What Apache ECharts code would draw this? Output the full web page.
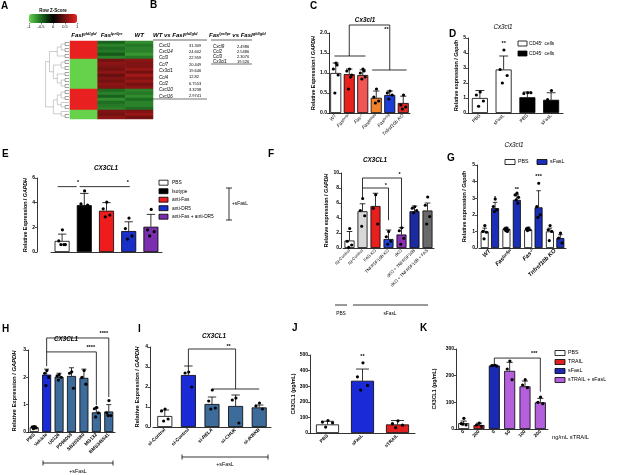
<!DOCTYPE html>
<html>
<head>
<meta charset="utf-8">
<script src="https://cdn.jsdelivr.net/npm/echarts@6/dist/echarts.min.js"></script>
<style>
  html, body { margin: 0; padding: 0; background: #fff; }
  #main { width: 617px; height: 475px; }
</style>
</head>
<body>
<div id="main"></div>
<script>
// ---- A: heatmap (row z-scores) ----
var hmCols = ['Fasl{s|gld/gld}', 'Fas{s|lpr/lpr}', 'WT'];
var hmFasl = [1.1, 1.15, 1.1, 1.15, 1.1, 1.15, -1.1, -1.15, -1.1, -1.15, -1.1, -1.15, -1.1, -1.15, -1.1, -1.15, 1.1, 1.15, 1.1, 1.15, 1.1, 1.15, 1.1, -1.1, -1.15, -1.1];
var hmLpr = [-0.45, -0.6, -0.5, -0.55, -0.4, -0.6, 0.5, 0.6, 0.55, 0.5, 0.6, 0.45, 0.55, 0.5, 0.6, 0.55, -0.5, -0.6, -0.45, -0.65, -0.5, -0.55, -0.6, 0.55, 0.5, 0.6];
var hmWt = [-0.65, -0.55, -0.6, -0.6, -0.7, -0.55, 0.6, 0.55, 0.55, 0.65, 0.5, 0.7, 0.55, 0.65, 0.5, 0.6, -0.6, -0.55, -0.65, -0.5, -0.6, -0.6, -0.5, 0.55, 0.65, 0.5];
var dendro = [
  [
    [[[0, 1], [2, 3]], [4, 5]],
    [[[6, 7], [8, 9]], [[10, 11], [[12, 13], [14, 15]]]]
  ],
  [
    [[[16, 17], [18, 19]], [20, [21, 22]]],
    [23, [24, 25]]
  ]
];

// ---- B: tables ----
var tblWtGenes = ['Cxcl1', 'Cxcl14', 'Ccl3', 'Ccl7', 'Cx3cl1', 'Ccl4', 'Ccl2', 'Cxcl10', 'Cxcl16'];
var tblWtFold = ['31.309', '24.602', '22.959', '20.449', '19.646', '12.82', '6.7553', '3.3238', '2.9741'];
var tblLprGenes = ['Cxcl9', 'Ccl2', 'Ccl3', 'Cx3cl1'];
var tblLprFold = ['2.4986', '2.5486', '2.3070', '19.526'];

// ---- C ----
var cCats = ['WT', 'Fas{s|lpr/lpr}', 'Fas{s|-/-}', 'Fasl{s|gld/gld}', 'Fas{s|lpr/cg}', 'Tnfrsf10b KO'];
var cMean = [1.0, 0.97, 0.95, 0.38, 0.45, 0.25];
var cSd = [0.25, 0.13, 0.13, 0.17, 0.1, 0.17];
var cDots = [[1.25, 1.1, 0.95, 0.5, 1.2], [1.1, 1.05, 0.95, 0.6, 0.9], [1.1, 1.0, 0.9, 0.85, 1.05], [0.6, 0.4, 0.3, 0.25], [0.55, 0.5, 0.45, 0.35], [0.45, 0.2, 0.15, 0.1]];
var cColors = ['#ffffff', '#e8221c', '#f25555', '#f3822a', '#1c3ed6', '#dc2a20'];

// ---- D ----
var dCats = ['PBS', 'sFasL', 'PBS', 'sFasL'];
var dMean = [1.0, 2.9, 1.05, 0.88];
var dSd = [0.5, 0.9, 0.35, 0.47];
var dDots = [[1.4, 1.2, 0.8, 0.45], [4.2, 2.9, 2.5, 2.0], [1.35, 1.3, 1.35], [1.5, 0.9, 0.7, 0.45]];
var dColors = ['#ffffff', '#ffffff', '#000000', '#000000'];
var dLegend = ['CD45\u207A cells', 'CD45\u207B cells'];

// ---- E ----
var eCats = ['PBS', 'Isotype', 'anti-Fas', 'anti-DR5', 'anti-Fas + anti-DR5'];
var eMean = [0.9, 3.8, 3.35, 1.7, 2.05];
var eSd = [0.55, 0.95, 0.65, 0.75, 1.0];
var eDots = [[1.8, 0.9, 0.6, 0.6, 0.6], [4.95, 3.9, 3.8], [4.05, 3.5, 3.0, 2.85], [2.75, 1.9, 1.3, 1.05], [3.45, 1.8, 1.65, 1.3]];
var eColors = ['#ffffff', '#000000', '#ee1c1c', '#1a2fc8', '#7b2fae'];

// ---- F ----
var fCats = ['sg-Control', 'sg-Control', 'FAS KO', 'TNFRSF10B KO', 'dKO', 'dKO + TNFRSF10B', 'dKO + TNFRSF10B + FAS'];
var fMean = [1.0, 4.9, 5.6, 1.2, 1.8, 4.9, 5.0];
var fSd = [1.2, 1.0, 1.7, 1.2, 0.9, 0.7, 1.0];
var fDots = [[2.6, 0.9, 0.4, 0.1], [6.6, 5.0, 4.3, 2.9], [7.1, 5.3, 3.2], [2.2, 1.5, 0.9, 0.5], [2.7, 2.3, 1.3, 0.5], [5.5, 5.3, 5.0, 4.7], [6.8, 5.7, 4.2, 3.2]];
var fColors = ['#ffffff', '#d8d8d8', '#e8201d', '#2142d8', '#8b2fb3', '#1b2a9e', '#6a6a6a'];

// ---- G ----
var gCats = ['WT', 'Fas{s|lpr/lpr}', 'Fas{s|-/-}', 'Tnfrsf10b KO'];
var gPbsMean = [1.0, 1.15, 1.1, 1.0];
var gPbsSd = [0.2, 0.1, 0.15, 0.2];
var gPbsDots = [[1.35, 1.0, 0.95, 0.55], [1.2, 1.15, 1.1, 1.05, 1.0], [1.2, 1.15, 1.1, 1.05], [1.35, 1.1, 1.0, 0.45]];
var gFasMean = [2.4, 2.9, 2.45, 0.6];
var gFasSd = [0.35, 0.3, 1.0, 0.2];
var gFasDots = [[2.95, 2.5, 2.3, 2.2], [3.3, 3.2, 3.05, 2.9, 2.7], [3.9, 2.5, 2.0, 1.85], [0.9, 0.6, 0.3]];
var gLegend = ['PBS', 'sFasL'];

// ---- H ----
var hCats = ['PBS', 'Vehicle', 'U0126', 'PD98059', 'SB203580', 'MG132', 'BMS345541'];
var hMean = [0.17, 2.1, 2.02, 2.05, 1.98, 0.72, 0.75];
var hSd = [0.05, 0.2, 0.13, 0.3, 0.32, 0.16, 0.25];
var hDots = [[0.2, 0.18, 0.15, 0.12], [2.25, 2.15, 2.0, 1.7], [2.1, 2.05, 2.0, 1.9], [2.2, 2.15, 1.6], [2.25, 2.0, 1.75], [0.9, 0.85, 0.7, 0.55], [1.15, 0.7, 0.6, 0.6]];
var hColors = ['#ffffff', '#1a2ad6', '#3d6b9a', '#3d6b9a', '#3d6b9a', '#3d6b9a', '#3d6b9a'];

// ---- I ----
var iCats = ['si-Control', 'si-Control', 'si-{i|RELA}', 'si-{i|CHUK}', 'si-{i|IKBKB}'];
var iMean = [0.55, 2.6, 1.15, 1.05, 0.98];
var iSd = [0.3, 0.45, 0.35, 0.55, 0.12];
var iDots = [[0.9, 0.8, 0.4, 0.3], [2.75, 2.7, 2.0], [1.85, 1.3, 0.95, 0.9], [1.45, 1.35, 0.2], [1.2, 1.05, 0.9]];
var iColors = ['#ffffff', '#1a2ad6', '#3d6b9a', '#3d6b9a', '#3d6b9a'];

// ---- J ----
var jCats = ['PBS', 'sFasL', 'sTRAIL'];
var jMean = [55, 335, 55];
var jSd = [20, 75, 25];
var jDots = [[80, 70, 65, 38], [450, 360, 305, 275], [78, 60, 50, 35]];
var jColors = ['#ffffff', '#1a2ad6', '#e02020'];

// ---- K ----
var kCats = ['0', '200', '0', '50', '100', '200'];
var kMean = [22, 15, 238, 218, 160, 100];
var kSd = [8, 7, 2, 32, 20, 15];
var kDots = [[40, 20, 15, 18], [22, 15, 10], [240, 238, 236], [255, 225, 185], [185, 165, 155], [120, 100, 95]];
var kColors = ['#ffffff', '#e02020', '#1a2ab5', '#b45fdc', '#b45fdc', '#b45fdc'];
var kLegend = ['PBS', 'TRAIL', 'sFasL', 'sTRAIL + sFasL'];
var kLegendColors = ['#ffffff', '#e02020', '#1a2ab5', '#b45fdc'];

var FONT = '"Liberation Sans", Arial, sans-serif';
var jit = [0.02, -0.22, 0.22, -0.08, 0.12];

var grids = [], xAxes = [], yAxes = [], series = [], graphics = [];

function sup(size) {
  return {
    i: { fontStyle: 'italic', fontSize: size, fontFamily: FONT },
    s: { fontSize: size * 0.7, verticalAlign: 'top', fontFamily: FONT, fontStyle: 'italic' }
  };
}

// interpolate between category centres
function pt(api, x, y) {
  var a = Math.floor(x), f = x - a;
  var p = api.coord([a, y]);
  if (f > 0) {
    var q = api.coord([a + 1, y]);
    p = [p[0] + (q[0] - p[0]) * f, p[1]];
  }
  return p;
}

function addGrid(box, xa, ya) {
  box.outerBoundsMode = 'none';
  grids.push(box);
  var gi = grids.length - 1;
  xa.gridIndex = gi; ya.gridIndex = gi;
  xAxes.push(xa); yAxes.push(ya);
  return gi;
}

function barPanel(p) {
  var lbl = p.label || {};
  var gi = addGrid(p.box, {
    type: 'category', data: p.cats,
    axisLine: { lineStyle: { color: '#000', width: 0.8 } },
    axisTick: { alignWithLabel: true, length: 2, lineStyle: { color: '#000', width: 0.7 } },
    axisLabel: {
      show: lbl.show !== false, interval: 0, rotate: 45, margin: 2,
      fontSize: lbl.size || 5, color: '#000', fontFamily: FONT,
      fontStyle: lbl.italic ? 'italic' : 'normal', fontWeight: lbl.bold ? 'bold' : 'normal',
      rich: sup(lbl.size || 5)
    }
  }, {
    type: 'value', min: 0, max: p.ymax, interval: p.yint, offset: p.yOffset || 0,
    axisLine: { show: true, lineStyle: { color: '#000', width: 0.8 } },
    axisTick: { show: true, length: 2, lineStyle: { color: '#000', width: 0.7 } },
    splitLine: { show: false },
    axisLabel: { fontSize: 5, margin: 2, color: '#000', fontFamily: FONT, fontWeight: 'bold', formatter: p.yfmt },
    name: p.yname, nameLocation: 'middle', nameGap: p.nameGap,
    nameTextStyle: {
      fontSize: p.nameSize || 5.3, fontWeight: 'bold', color: '#000', fontFamily: FONT,
      rich: { i: { fontStyle: 'italic', fontWeight: 'bold', fontSize: p.nameSize || 5.3, fontFamily: FONT } }
    }
  });
  p.series.forEach(function (s) {
    series.push({
      type: 'bar', xAxisIndex: gi, yAxisIndex: gi, barWidth: p.barWidth, barGap: p.barGap || '30%',
      data: s.mean.map(function (v, i) {
        var c = Array.isArray(s.colors) ? s.colors[i] : s.colors;
        return { value: v, itemStyle: { color: c } };
      }),
      itemStyle: { borderColor: '#000', borderWidth: 0.8 }, silent: true
    });
  });
  p.series.forEach(function (s) {
    var shift = s.shift || 0, cap = p.barWidth * 0.28;
    series.push({
      type: 'custom', xAxisIndex: gi, yAxisIndex: gi, silent: true, z: 3,
      data: s.mean.map(function (v, i) { return [i, v, s.sd[i]]; }),
      renderItem: function (params, api) {
        var p0 = api.coord([api.value(0), api.value(1)]);
        var p1 = api.coord([api.value(0), api.value(1) + api.value(2)]);
        var x = p0[0] + shift;
        var st = { stroke: '#000', lineWidth: 0.8 };
        return { type: 'group', children: [
          { type: 'line', shape: { x1: x, y1: p0[1], x2: x, y2: p1[1] }, style: st },
          { type: 'line', shape: { x1: x - cap, y1: p1[1], x2: x + cap, y2: p1[1] }, style: st }
        ] };
      }
    });
    var dd = [];
    s.dots.forEach(function (arr, i) { arr.forEach(function (v, j) { dd.push([i, v, j]); }); });
    series.push({
      type: 'custom', xAxisIndex: gi, yAxisIndex: gi, silent: true, z: 4, data: dd,
      renderItem: function (params, api) {
        var c = api.coord([api.value(0), api.value(1)]);
        return { type: 'circle', shape: { cx: c[0] + shift + jit[api.value(2) % jit.length] * p.barWidth, cy: c[1], r: 1.6 }, style: { fill: '#000' } };
      }
    });
  });
  if (p.brackets) {
    var br = p.brackets;
    series.push({
      type: 'custom', xAxisIndex: gi, yAxisIndex: gi, silent: true, z: 5,
      data: br.map(function (b, i) { return [0, 0]; }),
      renderItem: function (params, api) {
        var b = br[params.dataIndex];
        var kids = [];
        if (b.pts) {
          kids.push({ type: 'polyline', shape: { points: b.pts.map(function (q) { return pt(api, q[0], q[1]); }) }, style: { stroke: '#000', lineWidth: 0.8, fill: null } });
        }
        if (b.text) {
          var c = pt(api, b.at[0], b.at[1]);
          kids.push({ type: 'text', x: c[0] + (b.dx || 0), y: c[1], style: { text: b.text, fontSize: 5.5, fontWeight: 'bold', fontFamily: FONT, fill: '#000', align: 'center', verticalAlign: 'middle' } });
        }
        return { type: 'group', children: kids };
      }
    });
  }
  return gi;
}

// ---- A heatmap ----
var hmAll = [hmFasl, hmLpr, hmWt];
var hmData = [];
hmAll.forEach(function (col, c) { col.forEach(function (v, r) { hmData.push([c, r, v]); }); });
var rowIdx = hmFasl.map(function (v, i) { return String(i); });
var gHeat = addGrid({ left: 70, top: 41, width: 83, height: 78 }, {
  type: 'category', data: hmCols, position: 'top',
  axisLine: { show: false }, axisTick: { show: false },
  axisLabel: { interval: 0, margin: 3, fontSize: 6, fontWeight: 'bold', fontStyle: 'italic', color: '#000', fontFamily: FONT,
    rich: { s: { fontSize: 4, verticalAlign: 'top', fontWeight: 'bold', fontStyle: 'italic', fontFamily: FONT } } }
}, { type: 'category', data: rowIdx, inverse: true, show: false });
series.push({ type: 'heatmap', xAxisIndex: gHeat, yAxisIndex: gHeat, data: hmData, silent: true });

// colour-bar tick labels
var gBar = addGrid({ left: 29, top: 22, width: 48, height: 1 }, {
  type: 'value', min: -1, max: 1, interval: 0.5,
  axisLine: { show: false }, splitLine: { show: false },
  axisTick: { show: true, length: 1.5, lineStyle: { color: '#000', width: 0.5 } },
  axisLabel: { fontSize: 4, margin: 2, color: '#000', fontFamily: FONT }
}, { type: 'value', show: false });
series.push({ type: 'scatter', xAxisIndex: gBar, yAxisIndex: gBar, data: [] });

// dendrogram
var segs = [];
function layoutTree(node) {
  if (typeof node === 'number') return { pos: node + 0.5, h: 0 };
  var a = layoutTree(node[0]), b = layoutTree(node[1]);
  var h = Math.max(a.h, b.h) + 1;
  segs.push([a.pos, b.pos, h, a.h, b.h]);
  return { pos: (a.pos + b.pos) / 2, h: h };
}
var root = layoutTree(dendro);
var gDen = addGrid({ left: 44, top: 41, width: 25, height: 78 },
  { type: 'value', min: 0, max: root.h + 0.4, inverse: true, show: false },
  { type: 'value', min: 0, max: hmFasl.length, inverse: true, show: false });
series.push({
  type: 'custom', xAxisIndex: gDen, yAxisIndex: gDen, silent: true, data: segs,
  renderItem: function (params, api) {
    var y1 = api.value(0), y2 = api.value(1), h = api.value(2), h1 = api.value(3), h2 = api.value(4);
    return { type: 'polyline', shape: { points: [api.coord([h1, y1]), api.coord([h, y1]), api.coord([h, y2]), api.coord([h2, y2])] },
      style: { stroke: h1 === 0 && h2 === 0 ? '#444' : '#9a9a9a', lineWidth: 0.5, fill: null } };
  }
});

// ---- bar panels ----
barPanel({
  box: { left: 329, top: 33, width: 81, height: 80 }, cats: cCats, ymax: 2, yint: 0.5,
  yfmt: function (v) { return v.toFixed(1); }, yname: 'Relative Expression / {i|GAPDH}', nameGap: 10,
  label: { italic: true, size: 4.8 }, barWidth: 11,
  series: [{ mean: cMean, sd: cSd, dots: cDots, colors: cColors }],
  brackets: [
    { pts: [[-0.1, 1.425], [2.2, 1.425]] },
    { pts: [[2.7, 1.075], [5.25, 1.075]] },
    { pts: [[1, 1.425], [1, 2.2], [4, 2.2], [4, 1.075]] },
    { text: '**', at: [3.75, 2.08] }
  ]
});
barPanel({
  box: { left: 468, top: 38, width: 95, height: 75 }, cats: dCats, ymax: 5, yint: 1,
  yname: 'Relative expression / {i|Gapdh}', nameGap: 7.5, label: { size: 4.8 }, barWidth: 16,
  series: [{ mean: dMean, sd: dSd, dots: dDots, colors: dColors }],
  brackets: [{ text: '**', at: [1, 4.65] }]
});
barPanel({
  box: { left: 51, top: 178, width: 111, height: 74 }, yOffset: 14, cats: eCats, ymax: 6, yint: 2,
  yname: 'Relative Expression / {i|GAPDH}', nameGap: 5, label: { show: false }, barWidth: 15,
  series: [{ mean: eMean, sd: eSd, dots: eDots, colors: eColors }],
  brackets: [
    { pts: [[-0.2, 5.3], [0.66, 5.3]] }, { text: '*', at: [0.72, 5.6] },
    { pts: [[0.79, 5.3], [3.05, 5.3]] }, { text: '*', at: [2.96, 5.6] }
  ]
});
barPanel({
  box: { left: 343, top: 173, width: 91, height: 75 }, yOffset: 2, cats: fCats, ymax: 10, yint: 2,
  yname: 'Relative expression / {i|GAPDH}', nameGap: 6, label: { size: 4.3 }, barWidth: 10,
  series: [{ mean: fMean, sd: fSd, dots: fDots, colors: fColors }],
  brackets: [
    { pts: [[1, 6.4], [1, 8.0], [3, 8.0], [3, 3.7]] }, { text: '*', at: [2.8, 8.4] },
    { pts: [[1, 8.0], [1, 9.33], [4, 9.33], [4, 2.8]] }, { text: '*', at: [3.85, 9.75] }
  ]
});
barPanel({
  box: { left: 479, top: 165, width: 87, height: 83 }, yOffset: 2, cats: gCats, ymax: 5, yint: 1,
  yname: 'Relative expression / {i|Gapdh}', nameGap: 9.5, label: { size: 5.8, bold: true, italic: true },
  barWidth: 8, barGap: '30%',
  series: [
    { mean: gPbsMean, sd: gPbsSd, dots: gPbsDots, colors: '#ffffff', shift: -5.2 },
    { mean: gFasMean, sd: gFasSd, dots: gFasDots, colors: '#1a2fb5', shift: 5.2 }
  ],
  brackets: [
    { text: '*', at: [0, 3.0], dx: 5.2 }, { text: '**', at: [1, 3.5], dx: 5.2 }, { text: '***', at: [2, 4.3], dx: 5.2 }
  ]
});
barPanel({
  box: { left: 28, top: 350, width: 87, height: 82 }, cats: hCats, ymax: 3, yint: 1,
  yname: 'Relative Expression / {i|GAPDH}', nameGap: 11, nameSize: 5.8, label: { size: 4.8, bold: true }, barWidth: 9,
  series: [{ mean: hMean, sd: hSd, dots: hDots, colors: hColors }],
  brackets: [
    { pts: [[1, 2.41], [1, 3.44], [6, 3.44], [6, 1.28]] }, { text: '****', at: [5.6, 3.62] },
    { pts: [[1, 2.93], [5, 2.93], [5, 0.99]] }, { text: '****', at: [4.55, 3.08] }
  ]
});
barPanel({
  box: { left: 153, top: 347, width: 118, height: 80 }, yOffset: 3, cats: iCats, ymax: 4, yint: 1,
  yname: 'Relative Expression / {i|GAPDH}', nameGap: 10, nameSize: 5.8, label: { size: 4.8, bold: true }, barWidth: 15,
  series: [{ mean: iMean, sd: iSd, dots: iDots, colors: iColors }],
  brackets: [
    { pts: [[1, 3.05], [1, 3.9], [3, 3.9], [3, 1.9]] }, { pts: [[2, 1.9], [4, 1.9]] }, { text: '**', at: [2.7, 4.05] }
  ]
});
barPanel({
  box: { left: 310, top: 355, width: 105, height: 78 }, cats: jCats, ymax: 500, yint: 100,
  yname: 'CX3CL1 (pg/mL)', nameGap: 13, label: { size: 4.8, bold: true }, barWidth: 23,
  series: [{ mean: jMean, sd: jSd, dots: jDots, colors: jColors }],
  brackets: [{ text: '**', at: [1, 490] }]
});
barPanel({
  box: { left: 456, top: 349, width: 92, height: 80 }, cats: kCats, ymax: 300, yint: 100,
  yname: 'CX3CL1 (pg/mL)', nameGap: 19, label: { size: 4.8, bold: true }, barWidth: 11,
  series: [{ mean: kMean, sd: kSd, dots: kDots, colors: kColors }],
  brackets: [{ pts: [[2, 245], [2, 266], [5, 266], [5, 140]] }, { text: '***', at: [4.6, 283] }]
});

// ---- graphic: letters, titles, tables, legends ----
function txt(x, y, text, o) {
  var st = { text: text, fontSize: 5, fontFamily: FONT, fill: '#000', align: 'left', verticalAlign: 'middle' };
  for (var k in o) st[k] = o[k];
  return { type: 'text', x: x, y: y, silent: true, style: st };
}
function ln(x1, y1, x2, y2, w, c) {
  return { type: 'line', silent: true, shape: { x1: x1, y1: y1, x2: x2, y2: y2 }, style: { stroke: c || '#000', lineWidth: w || 0.8 } };
}
function box(x, y, w, h, fill) {
  return { type: 'rect', silent: true, shape: { x: x, y: y, width: w, height: h }, style: { fill: fill, stroke: '#000', lineWidth: 0.8 } };
}

var letters = [['A', 1, 6], ['B', 150, 5], ['C', 310, 6], ['D', 449, 34], ['E', 2, 154], ['F', 268, 154], ['G', 447, 158], ['H', 2, 329], ['I', 138, 329], ['J', 292, 328], ['K', 420, 328]];
letters.forEach(function (l) { graphics.push(txt(l[1], l[2], l[0], { fontSize: 10, fontWeight: 'bold' })); });

var titles = [['Cx3cl1', 365, 20, 'bold'], ['Cx3cl1', 503, 27, 'normal'], ['CX3CL1', 106, 168, 'bold'], ['CX3CL1', 375, 160, 'bold'], ['Cx3cl1', 514, 145, 'normal'], ['CX3CL1', 66, 339, 'bold'], ['CX3CL1', 214, 336, 'bold']];
titles.forEach(function (t) { graphics.push(txt(t[1], t[2], t[0], { fontSize: 6.3, fontStyle: 'italic', fontWeight: t[3], align: 'center' })); });

graphics.push(txt(53, 11, 'Row Z-Score', { fontSize: 4.5, fontWeight: 'bold', align: 'center' }));

// B tables
var hdRich = {
  b: { fontSize: 6, fontWeight: 'bold', fontStyle: 'italic', fontFamily: FONT },
  s: { fontSize: 4, fontWeight: 'bold', fontStyle: 'italic', verticalAlign: 'top', fontFamily: FONT }
};
graphics.push(txt(153, 35, '{b|WT vs Fasl}{s|gld/gld}', { rich: hdRich }));
graphics.push(txt(209, 35, '{b|Fas}{s|lpr/lpr}{b| vs Fasl}{s|gld/gld}', { rich: hdRich }));
graphics.push(ln(153, 40, 207, 40, 0.6));
graphics.push(ln(211, 40, 252, 40, 0.6));
tblWtGenes.forEach(function (g, i) {
  var y = 45.5 + i * 6.35;
  graphics.push(txt(159, y, g, { fontSize: 4.5, fontStyle: 'italic' }));
  graphics.push(txt(189, y, tblWtFold[i], { fontSize: 4 }));
});
graphics.push(ln(153, 99, 207, 99, 1.1, '#777'));
tblLprGenes.forEach(function (g, i) {
  var y = 46.5 + i * 5;
  graphics.push(txt(213, y, g, { fontSize: 4.5, fontStyle: 'italic' }));
  graphics.push(txt(237, y, tblLprFold[i], { fontSize: 4 }));
});
graphics.push(ln(211, 64, 252, 64, 1.1, '#777'));

// D legend
[['#ffffff', 43.5], ['#000000', 53.5]].forEach(function (r, i) {
  graphics.push(box(518, r[1] - 2.5, 9, 5, r[0]));
  graphics.push(txt(529, r[1], dLegend[i], { fontSize: 4.8 }));
});

// E legend
eCats.forEach(function (c, i) {
  var y = 182.7 + i * 8.5;
  graphics.push(box(159, y - 2.5, 9, 5, eColors[i]));
  graphics.push(txt(172, y, c, { fontSize: 4.8 }));
});
graphics.push(ln(229, 188, 229, 220));
graphics.push(ln(226, 188, 232, 188));
graphics.push(ln(226, 220, 232, 220));
graphics.push(txt(232, 204, '+sFasL', { fontSize: 4.8 }));

// F bottom groups
graphics.push(ln(335, 305, 347, 305));
graphics.push(ln(353, 305, 428, 305));
graphics.push(txt(341, 314, 'PBS', { fontSize: 4.8, align: 'center' }));
graphics.push(txt(390, 314, 'sFasL', { fontSize: 4.8, align: 'center' }));

// G legend
graphics.push(box(505, 159.5, 10, 5, '#ffffff'));
graphics.push(txt(518, 162, gLegend[0], { fontSize: 5.3 }));
graphics.push(box(537, 159.5, 10, 5, '#1a2fb5'));
graphics.push(txt(550, 162, gLegend[1], { fontSize: 5.3 }));

// H / I +sFasL brackets
[[43, 113, 463, 78, 472], [182, 268, 457, 225, 465]].forEach(function (b) {
  graphics.push(ln(b[0], b[2], b[1], b[2]));
  graphics.push(ln(b[0], b[2] - 2.5, b[0], b[2] + 2.5));
  graphics.push(ln(b[1], b[2] - 2.5, b[1], b[2] + 2.5));
  graphics.push(txt(b[3], b[4], '+sFasL', { fontSize: 5.3, align: 'center' }));
});

// K legend
kLegend.forEach(function (c, i) {
  var y = 353 + i * 9;
  graphics.push(box(555, y - 2.5, 10, 5, kLegendColors[i]));
  graphics.push(txt(568, y, c, { fontSize: 5.3 }));
});
graphics.push(txt(552, 437, 'ng/mL sTRAIL', { fontSize: 5.8 }));

var chart = echarts.init(document.getElementById('main'), null, { renderer: 'canvas' });
chart.setOption({
  animation: false,
  backgroundColor: '#ffffff',
  textStyle: { fontFamily: FONT },
  grid: grids,
  xAxis: xAxes,
  yAxis: yAxes,
  visualMap: {
    type: 'continuous', min: -1, max: 1, seriesIndex: 0, orient: 'horizontal',
    left: 29, top: 14, itemWidth: 9, itemHeight: 48, calculable: false, text: null,
    padding: 0, hoverLink: false,
    inRange: { color: ['#66d24c', '#1d6e22', '#000000', '#741212', '#e82020'] }
  },
  series: series,
  graphic: graphics
});
</script>
</body>
</html>
